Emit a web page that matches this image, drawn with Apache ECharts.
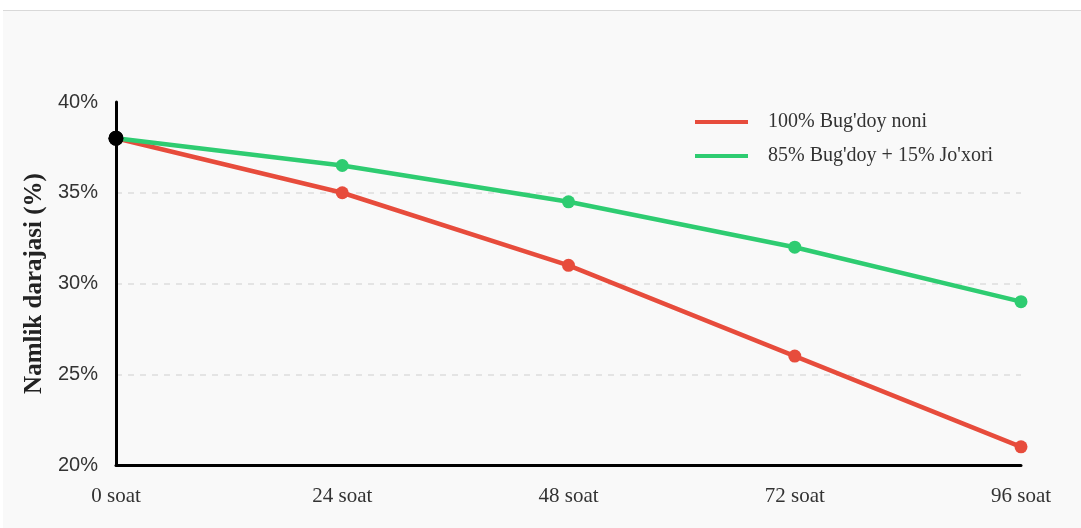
<!DOCTYPE html>
<html>
<head>
<meta charset="utf-8">
<script src="https://cdn.jsdelivr.net/npm/echarts@6/dist/echarts.min.js"></script>
<style>
  html, body { margin: 0; padding: 0; background: #ffffff; overflow: hidden; }
  #chart { position: absolute; left: 3px; top: 10px; width: 1078px; height: 517px; background: #f9f9f9; border-top: 1px solid #d9d9d9; }
</style>
</head>
<body>
<div id="chart"></div>
<script>
const categories = ['0 soat', '24 soat', '48 soat', '72 soat', '96 soat'];
const seriesNames = ["100% Bug'doy noni", "85% Bug'doy + 15% Jo'xori"];
const wheatValues = [38, 35, 31, 26, 21];
const mixValues = [38, 36.5, 34.5, 32, 29];
const yTicks = [20, 25, 30, 35, 40];

const colors = ['#e74c3c', '#2ecc71'];

function buildData(values) {
  return values.map(function (v, i) {
    if (i === 0) {
      return { value: v, symbolSize: 15, itemStyle: { color: '#000000' } };
    }
    return v;
  });
}

const chart = echarts.init(document.getElementById('chart'), null, { renderer: 'canvas' });
chart.setOption({
  animation: false,
  backgroundColor: '#f9f9f9',
  grid: { left: 113, right: 60, top: 91, bottom: 63, containLabel: false },
  legend: {
    orient: 'vertical',
    left: 692,
    top: 101,
    padding: 0,
    itemWidth: 53,
    itemHeight: 4,
    itemGap: 14,
    icon: 'rect',
    textStyle: { fontFamily: 'Liberation Serif', fontSize: 20, color: '#333333', padding: [0, 0, 0, 15] },
    data: seriesNames
  },
  xAxis: {
    type: 'category',
    data: categories,
    boundaryGap: false,
    axisLine: { show: true, lineStyle: { color: '#000000', width: 3 } },
    axisTick: { show: false },
    axisLabel: { fontFamily: 'Liberation Serif', fontSize: 21, color: '#333333', margin: 21 },
    splitLine: { show: false }
  },
  yAxis: {
    type: 'value',
    min: yTicks[0],
    max: yTicks[yTicks.length - 1],
    interval: 5,
    name: 'Namlik darajasi (%)',
    nameLocation: 'middle',
    nameGap: 65,
    nameTextStyle: { fontFamily: 'Liberation Serif', fontSize: 25, fontWeight: 'bold', color: '#222222' },
    axisLine: { show: true, lineStyle: { color: '#000000', width: 3 } },
    axisTick: { show: false },
    axisLabel: {
      fontFamily: 'Liberation Sans', fontSize: 20, color: '#333333', margin: 18,
      padding: [4, 0, 0, 0],
      formatter: function (v) { return v + '%'; }
    },
    splitLine: {
      show: true,
      showMaxLine: false,
      showMinLine: false,
      lineStyle: { color: '#dddddd', type: [6, 6], width: 1.5 }
    }
  },
  series: [
    {
      name: seriesNames[0],
      type: 'line',
      data: buildData(wheatValues),
      color: colors[0],
      lineStyle: { width: 4.5, color: colors[0] },
      itemStyle: { color: colors[0] },
      symbol: 'circle',
      symbolSize: 13,
      z: 2
    },
    {
      name: seriesNames[1],
      type: 'line',
      data: buildData(mixValues),
      color: colors[1],
      lineStyle: { width: 4.5, color: colors[1] },
      itemStyle: { color: colors[1] },
      symbol: 'circle',
      symbolSize: 13,
      z: 3
    }
  ]
});
</script>
</body>
</html>
